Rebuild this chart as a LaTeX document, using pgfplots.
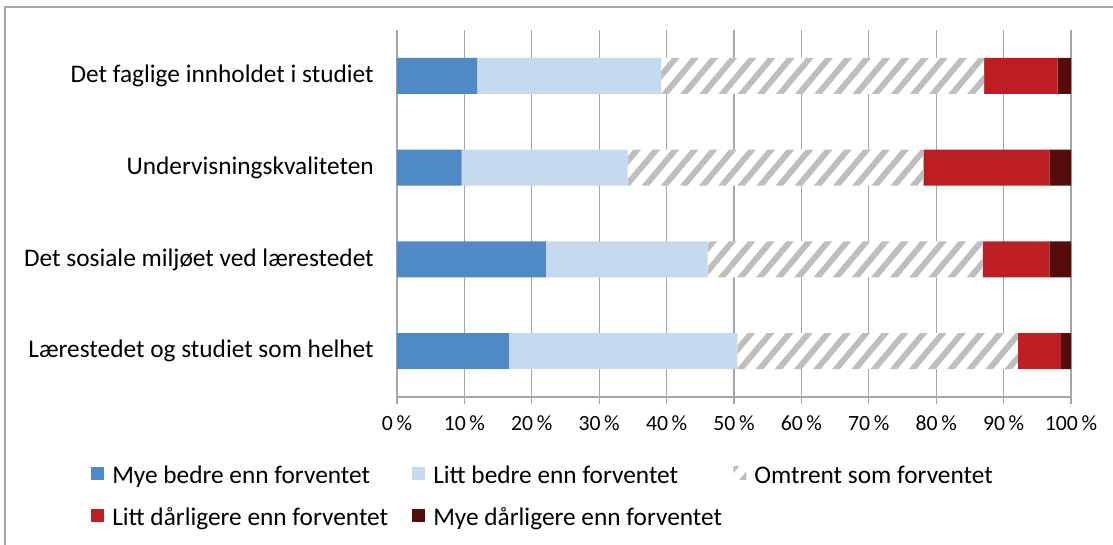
\documentclass[border=0pt]{standalone}
\usepackage{fontspec}
\setmainfont{Carlito}
\usepackage{pgfplots}
\pgfplotsset{compat=1.18}
\usetikzlibrary{patterns.meta}
\definecolor{c1}{RGB}{79,137,198}
\definecolor{c2}{RGB}{197,217,239}
\definecolor{c3}{RGB}{190,190,190}
\definecolor{c4}{RGB}{188,30,36}
\definecolor{c5}{RGB}{86,12,10}
\definecolor{gridc}{RGB}{166,166,166}
\begin{document}
\begin{tikzpicture}
\useasboundingbox (-297.75pt,-110.25pt) rectangle (537pt,297.75pt);
\draw[gridc, line width=1pt] (-294pt,-130pt) -- (-294pt,292.5pt) -- (560pt,292.5pt);
\begin{axis}[
  scale only axis,
  width=505.5pt, height=275.25pt,
  xbar stacked,
  bar width=27pt,
  xmin=0, xmax=100,
  ymin=-0.5, ymax=3.5,
  axis lines=left,
  axis line style={-, gridc, line width=1pt},
  xmajorgrids,
  grid style={gridc, line width=1pt},
  xtick={0,10,...,100},
  xticklabel={\pgfmathprintnumber{\tick}\,\%},
  /pgf/number format/assume math mode=true,
  xticklabel style={font=\fontsize{16.3}{19}\selectfont, yshift=-5pt},
  tick align=outside,
  x tick style={gridc, line width=1pt},
  major tick length=5.25pt,
  ytick={0,1,2,3},
  yticklabels={Lærestedet og studiet som helhet, Det sosiale miljøet ved lærestedet, Undervisningskvaliteten, Det faglige innholdet i studiet},
  y tick style={draw=none},
  minor ytick={-0.5,0.5,1.5,2.5,3.5},
  minor y tick style={gridc, line width=1pt},
  minor tick length=5.25pt,
  yticklabel style={font=\fontsize{19}{22}\selectfont, inner sep=0pt, xshift=-12pt},
  legend columns=3,
  legend style={draw=none, fill=none, at={(-0.454,0)}, anchor=west, yshift=-74.2pt,
    inner sep=0pt, row sep=19.3pt,
    nodes={inner sep=0pt, text height=12.2pt, text depth=0pt, font=\fontsize{19}{22}\selectfont},
    /tikz/every odd column/.append style={column sep=6pt}},
  legend image code/.code={\fill[#1] (0pt,-3.5pt) rectangle (9.75pt,6.25pt);},
]
\addplot[fill=c1, draw=none] coordinates {(16.6,0) (22.1,1) (9.6,2) (11.9,3)};
\addplot[fill=c2, draw=none] coordinates {(33.9,0) (24.0,1) (24.6,2) (27.3,3)};
\addplot[fill=white, draw=none, postaction={pattern={Lines[angle=50,distance=11pt,line width=4.4pt]}, pattern color=c3}] coordinates {(41.6,0) (40.8,1) (43.9,2) (47.9,3)};
\addplot[fill=c4, draw=none] coordinates {(6.4,0) (9.9,1) (18.7,2) (10.9,3)};
\addplot[fill=c5, draw=none] coordinates {(1.5,0) (3.2,1) (3.2,2) (2.0,3)};
\legend{\makebox[225pt][l]{Mye bedre enn forventet},\makebox[225pt][l]{Litt bedre enn forventet},Omtrent som forventet,\makebox[225pt][l]{Litt dårligere enn forventet},\makebox[225pt][l]{Mye dårligere enn forventet}}
\end{axis}
\end{tikzpicture}
\end{document}
